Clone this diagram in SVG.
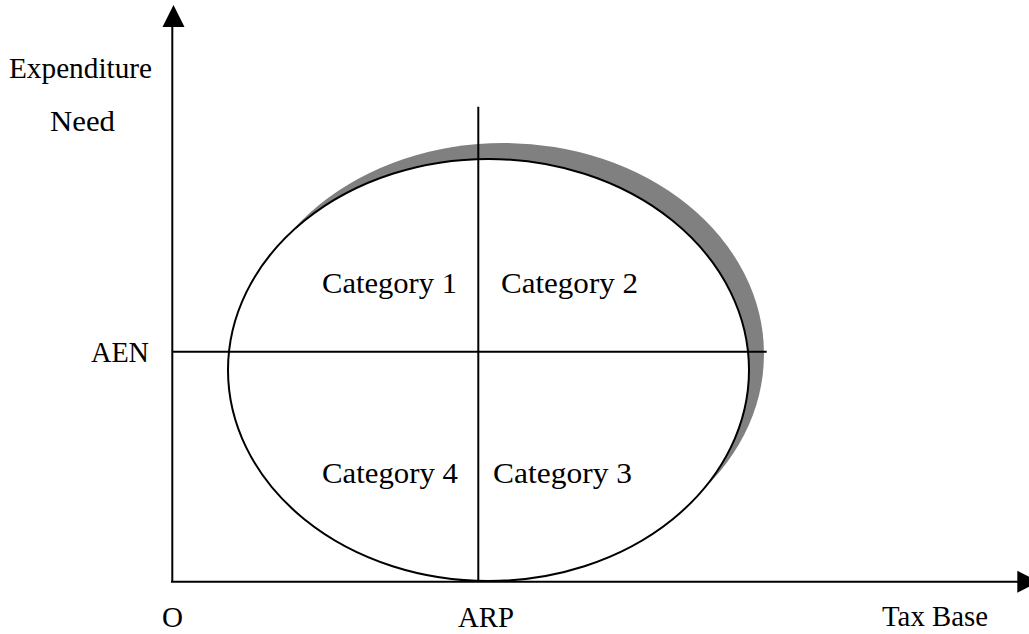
<svg xmlns="http://www.w3.org/2000/svg" width="1029" height="634" viewBox="0 0 1029 634">
<style>
.t{font-family:"Liberation Serif","Times New Roman",serif;font-size:29px;fill:#000}
.ln{stroke:#000;stroke-width:2;fill:none}
</style>
<rect width="1029" height="634" fill="#fff"/>
<g id="shape">
<ellipse id="shadow" cx="503.5" cy="354" rx="260.5" ry="211" fill="#808080"/>
<ellipse id="ellipse" cx="488.5" cy="370" rx="260.5" ry="211" fill="#fff" stroke="#000" stroke-width="2"/>
</g>
<g id="connectors">
<line class="ln" x1="172.3" y1="25" x2="172.3" y2="582"/>
<polygon points="173.5,5 162.5,27 184.5,27" fill="#000"/>
<line class="ln" x1="171" y1="581.7" x2="1019" y2="581.7"/>
<polygon points="1017.3,570.7 1017.3,592.7 1039,581.7" fill="#000"/>
<line class="ln" x1="172" y1="351.7" x2="766.7" y2="351.7"/>
<line class="ln" x1="478.3" y1="106.7" x2="478.3" y2="582"/>
</g>
<g id="labels">
<text class="t" x="9" y="78" textLength="143" lengthAdjust="spacingAndGlyphs">Expenditure</text>
<text class="t" x="50" y="131" textLength="65" lengthAdjust="spacingAndGlyphs">Need</text>
<text class="t" x="91" y="362" textLength="58" lengthAdjust="spacingAndGlyphs">AEN</text>
<text class="t" x="322" y="293" textLength="135" lengthAdjust="spacingAndGlyphs">Category 1</text>
<text class="t" x="501" y="293" textLength="137" lengthAdjust="spacingAndGlyphs">Category 2</text>
<text class="t" x="322" y="483" textLength="136" lengthAdjust="spacingAndGlyphs">Category 4</text>
<text class="t" x="493" y="483" textLength="139" lengthAdjust="spacingAndGlyphs">Category 3</text>
<text class="t" x="162" y="627" textLength="21" lengthAdjust="spacingAndGlyphs">O</text>
<text class="t" x="458" y="627" textLength="56" lengthAdjust="spacingAndGlyphs">ARP</text>
<text class="t" x="882" y="626" textLength="106" lengthAdjust="spacingAndGlyphs">Tax Base</text>
</g>
</svg>
